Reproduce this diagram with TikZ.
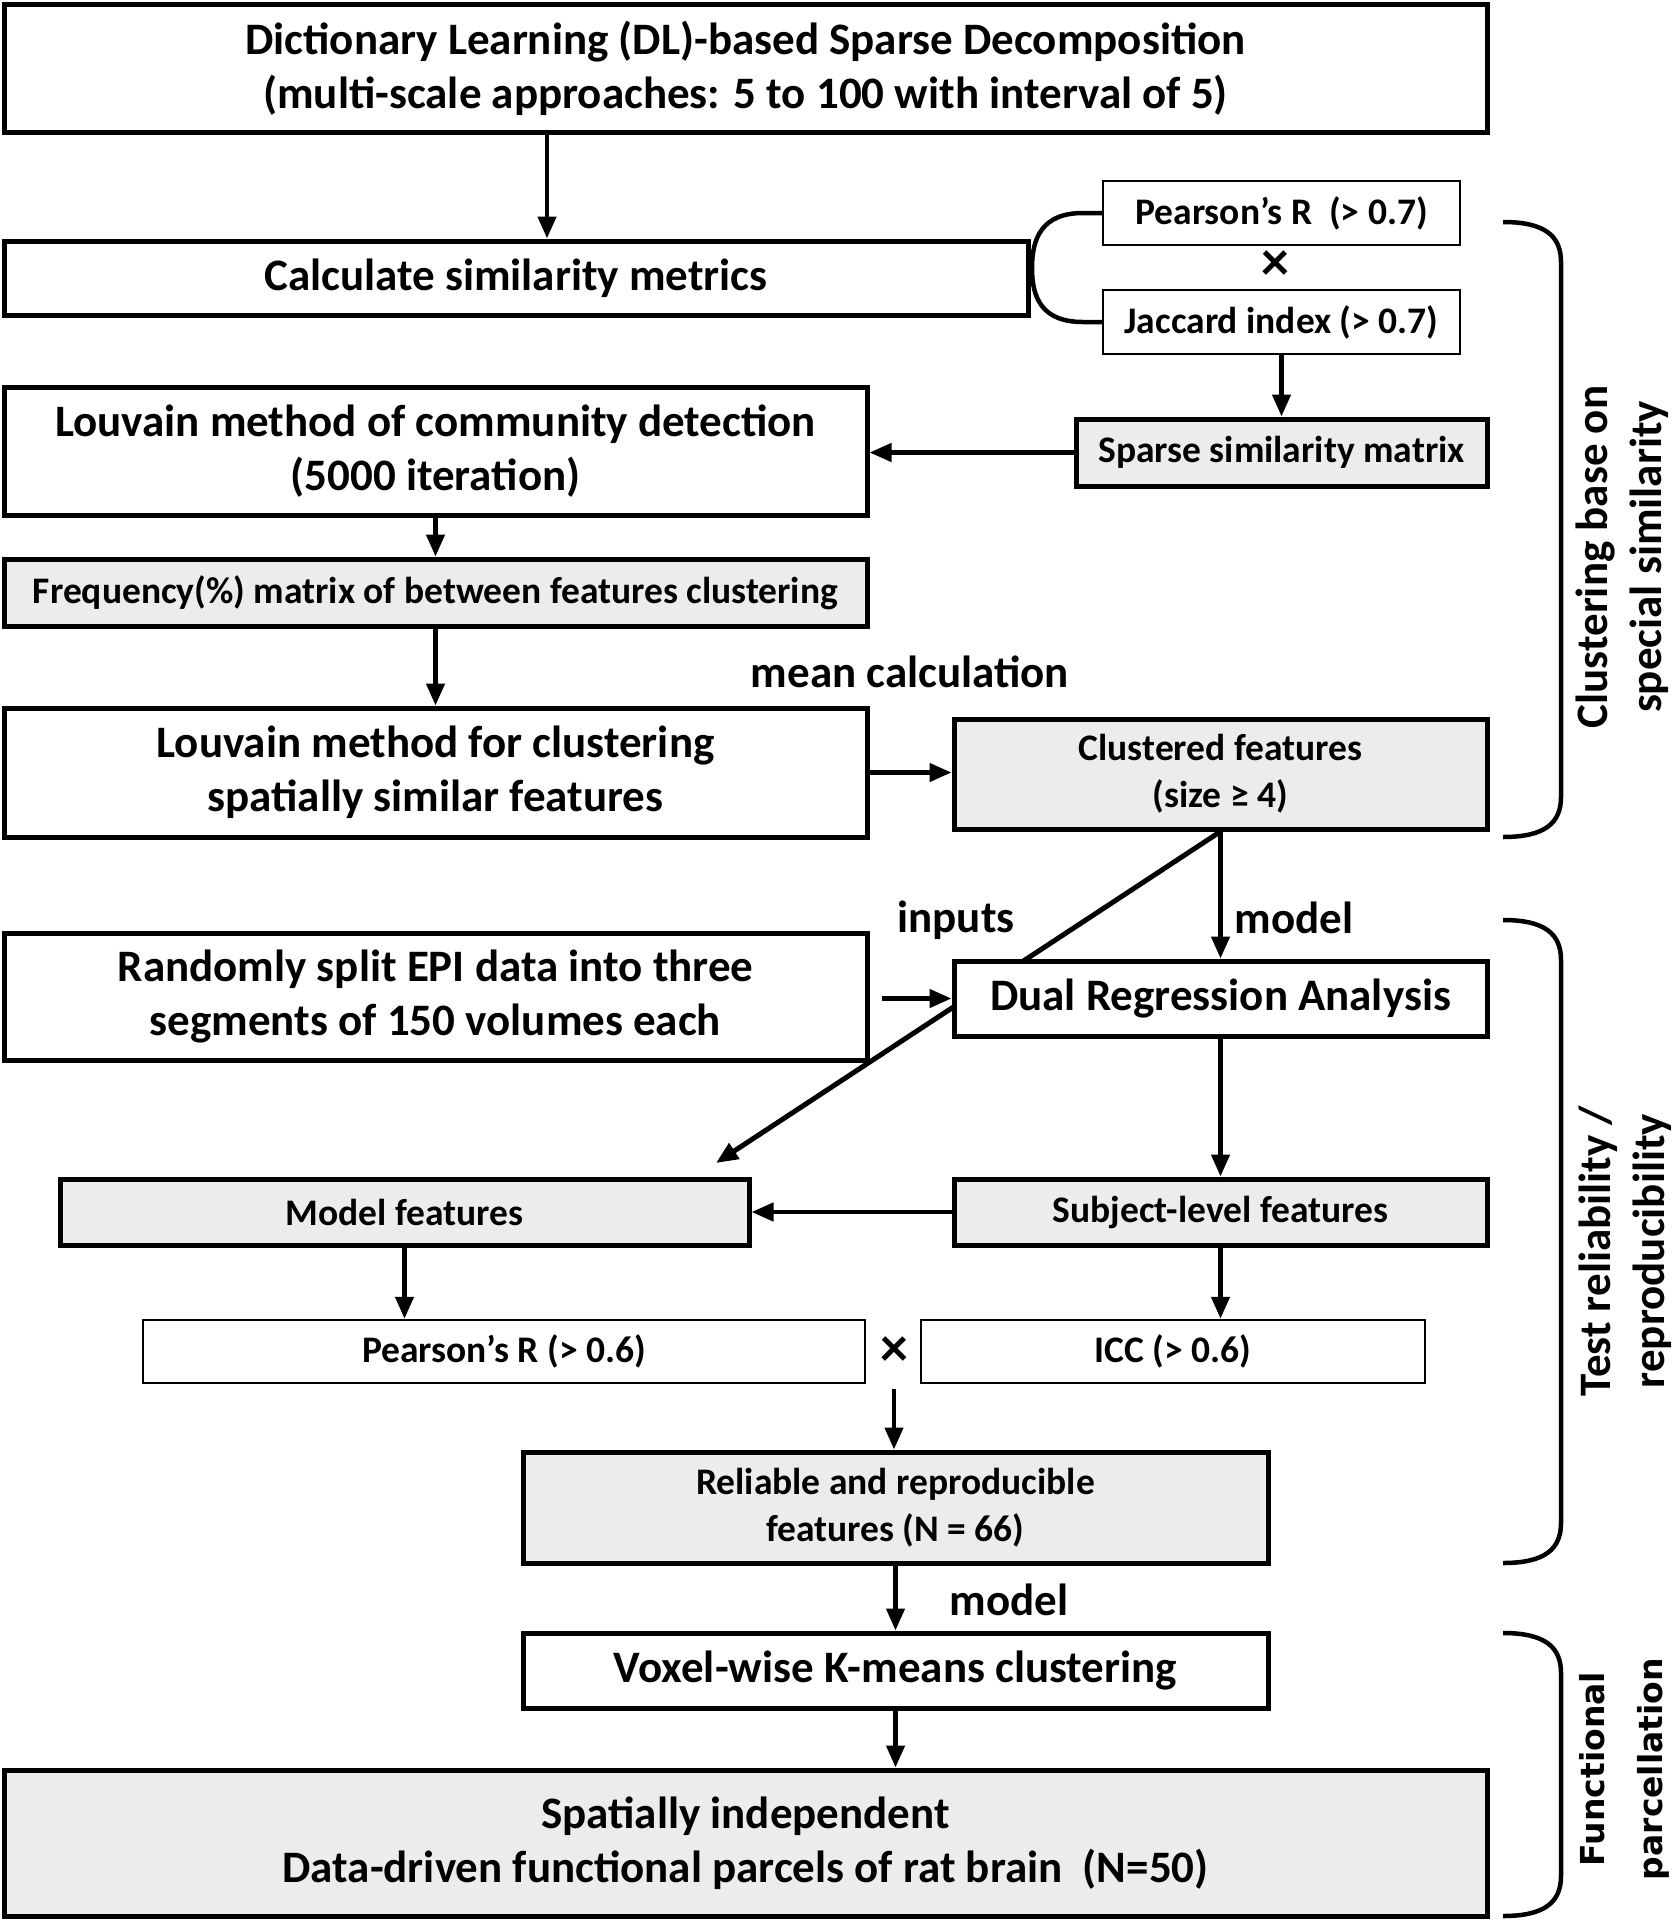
\documentclass[tikz,border=0pt]{standalone}
\usepackage{fontspec}
\setmainfont{Carlito}
\newfontfamily\wideface{DejaVu Sans}
\usetikzlibrary{arrows.meta,positioning,backgrounds}
\definecolor{boxgrey}{RGB}{236,236,236}
\newcommand{\bigfont}{\fontsize{45}{54}\selectfont\bfseries}
\newcommand{\midfont}{\fontsize{37.5}{47}\selectfont\bfseries}
\newcommand{\newBlock}[4]{\node[#3](#1) at (#4){#2};}
\newcommand{\newLink}[3]{\path[->] (#1) edge [#3] (#2);}

\begin{document}
\begin{tikzpicture}[
    % Default arrow tip
    >={Triangle[length=22pt,width=18pt]},
    % one unit is one pixel of the reference, y runs downwards
    x=1pt, y=-1pt,
    % Edge stroke thickness
    line width=4.5pt,
    block/.style={draw, line width=5pt, fill=white, inner sep=0pt, align=center, font=\bigfont},
    shaded/.style={fill=boxgrey},
    midtext/.style={font=\midfont},
    slim/.style={line width=2.5pt},
    wh/.style 2 args={minimum width=#1pt, minimum height=#2pt},
    lbl/.style={font=\bigfont, inner sep=0pt},
    side/.style={font=\bigfont, align=center, rotate=90, inner sep=0pt}
    ]
    \useasboundingbox (0,0) rectangle (1677,1920);

    % clustering on spatial similarity
    \newBlock{dl}{Dictionary Learning (DL)-based Sparse Decomposition\\(multi-scale approaches: 5 to 100 with interval of 5)}{block, wh={1483}{128}}{745.5,68}
    \newBlock{calc}{Calculate similarity metrics}{block, wh={1024}{74}}{516,278}
    \newBlock{pearA}{Pearson’s R\ \ (> 0.7)}{block, slim, midtext, wh={357}{64}}{1281.5,213}
    \newBlock{timesA}{×}{lbl, font=\fontsize{56}{56}\selectfont\bfseries}{1275,266}
    \newBlock{jacc}{Jaccard index (> 0.7)}{block, slim, midtext, wh={357}{64}}{1281.5,322}
    \newBlock{sparse}{Sparse similarity matrix}{block, shaded, midtext, wh={411}{67}}{1281.5,452.5}
    \newBlock{louvA}{Louvain method of community detection\\(5000 iteration)}{block, wh={863}{128}}{435.5,451}
    \newBlock{freq}{Frequency(\%) matrix of between features clustering}{block, shaded, midtext, wh={863}{67}}{435.5,592.5}
    \newBlock{mean}{mean calculation}{lbl}{910,672}
    \newBlock{louvB}{Louvain method for clustering\\spatially similar features}{block, wh={863}{129}}{435.5,772.5}
    \newBlock{clust}{Clustered features\\(size ≥ 4)}{block, shaded, midtext, wh={533}{110}}{1220.5,774}

    % test reliability / reproducibility
    \newBlock{split}{Randomly split EPI data into three\\segments of 150 volumes each}{block, wh={863}{127}}{435.5,996.5}
    \newBlock{dual}{Dual Regression Analysis}{block, wh={533}{75}}{1220.5,998.5}
    \newBlock{inputs}{inputs}{lbl}{956,920}
    \newBlock{subj}{Subject-level features}{block, shaded, midtext, wh={533}{66}}{1220.5,1212}
    \newBlock{modelf}{Model features}{block, shaded, midtext, wh={689}{66}}{404.5,1212}
    \newBlock{pearB}{Pearson’s R (> 0.6)}{block, slim, midtext, wh={722}{63}}{504,1351.5}
    \newBlock{timesB}{×}{lbl, font=\fontsize{56}{56}\selectfont\bfseries, minimum height=63pt}{894,1351.5}
    \newBlock{icc}{ICC (> 0.6)}{block, slim, midtext, wh={504}{63}}{1173,1351.5}
    \newBlock{reliab}{Reliable and reproducible\\features (N = 66)}{block, shaded, midtext, wh={745}{111}}{895.5,1507.5}

    % functional parcellation
    \newBlock{voxel}{Voxel-wise K-means clustering}{block, wh={745}{75}}{895.5,1670.5}
    \newBlock{parcel}{Spatially independent\\Data-driven functional parcels of rat brain\ \ (N=50)}{block, shaded, wh={1483}{146}}{745.5,1843}

    \coordinate (calcin) at ([xshift=31pt]calc.north);
    \coordinate (inputend) at (716,1163);

    \newLink{dl.south -| calcin}{calcin}{}
    \draw (pearA.west) -- (1083,213) .. controls (1042,213) and (1032,238) .. (1032,268)
          .. controls (1032,298) and (1042,322) .. (1083,322) -- (jacc.west);
    \newLink{jacc.south}{sparse.north}{}
    \newLink{sparse.west}{louvA.east |- sparse.west}{}
    \newLink{louvA.south}{freq.north}{}
    \newLink{freq.south}{louvB.north}{}
    \newLink{louvB.east}{louvB.east -| clust.west}{}
    \path[->] (clust.south) edge node[lbl, right, pos=0.68, xshift=12pt] {model} (dual.north);
    \begin{scope}[on background layer]
      \draw[->, line width=5pt] (clust.south) -- (inputend);
    \end{scope}
    \newLink{split.east |- dual.west}{dual.west}{shorten <=12pt}
    \newLink{dual.south}{subj.north}{}
    \newLink{subj.west}{modelf.east}{}
    \newLink{modelf.south}{modelf.south |- pearB.north}{}
    \newLink{subj.south}{subj.south |- icc.north}{}
    \newLink{timesB.south}{timesB.south |- reliab.north}{shorten <=4pt}
    \newLink{reliab.south}{voxel.north}{}
    \newBlock{mdlB}{model}{lbl}{1009,1600}
    \newLink{voxel.south}{voxel.south |- parcel.north}{}

    % group brackets
    \draw (1503,222) .. controls (1545,222) and (1561,236) .. (1561,262) -- (1561,797)
          .. controls (1561,823) and (1545,837) .. (1503,837);
    \draw (1503,920) .. controls (1545,920) and (1561,934) .. (1561,960) -- (1561,1523)
          .. controls (1561,1549) and (1545,1563) .. (1503,1563);
    \draw (1503,1633) .. controls (1545,1633) and (1561,1647) .. (1561,1673) -- (1561,1876)
          .. controls (1561,1902) and (1545,1916) .. (1503,1916);
    \newBlock{grpA}{Clustering base on\\special similarity}{side}{1622,557}
    \newBlock{grpB}{Test reliability /\\reproducibility}{side}{1625,1251}
    \newBlock{grpC}{Functional\\parcellation}{side, font={\wideface\fontsize{33}{58}\selectfont\bfseries}}{1624,1769}
\end{tikzpicture}
\end{document}
